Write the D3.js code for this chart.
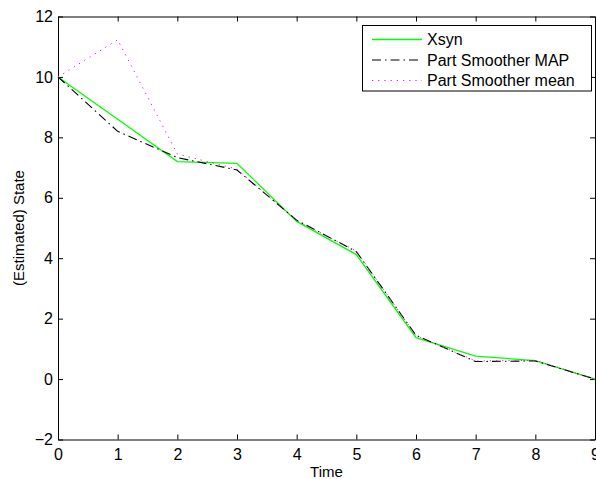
<!DOCTYPE html>
<html lang="en">
<head>
    <meta charset="UTF-8">
    <title>Estimated State</title>
    <script src="https://d3js.org/d3.v7.min.js"></script>
    <style>
        body { margin: 0; background: #fff; }
        svg { display: block; }
        .axis text {
            font-family: "Liberation Sans", Arial, sans-serif;
            font-size: 16px;
            fill: #000;
        }
        .axis path, .axis line { stroke: #000; }
        .label, .legend text {
            font-family: "Liberation Sans", Arial, sans-serif;
            fill: #000;
        }
    </style>
</head>
<body>
<svg></svg>
<script>
    const times = [0, 1, 2, 3, 4, 5, 6, 7, 8, 9];
    const xsyn = [10, 8.6, 7.2, 7.14, 5.22, 4.12, 1.37, 0.76, 0.61, 0.0];
    const smootherMap = [10, 8.2, 7.33, 6.92, 5.26, 4.22, 1.45, 0.58, 0.6, 0.0];
    const smootherMean = [10, 11.23, 7.45, 6.95, 5.24, 4.24, 1.44, 0.6, 0.62, 0.0];
    const xTicks = [0, 1, 2, 3, 4, 5, 6, 7, 8, 9];
    const yTicks = [-2, 0, 2, 4, 6, 8, 10, 12];

    const width = 596, height = 479;
    const margins = { top: 16.5, bottom: 39.5, left: 58, right: 1 };

    const svg = d3.select("svg")
        .attr("width", width)
        .attr("height", height);

    const xScale = d3.scaleLinear()
        .domain([0, 9])
        .range([margins.left, width - margins.right]);

    const yScale = d3.scaleLinear()
        .domain([-2, 12])
        .range([height - margins.bottom, margins.top]);

    // box axes, ticks pointing inward like matlab
    svg.append("g").attr("class", "axis")
        .attr("transform", `translate(0, ${height - margins.bottom})`)
        .call(d3.axisBottom(xScale).tickValues(xTicks).tickSize(-5).tickSizeOuter(0).tickPadding(9).tickFormat(d3.format("d")));

    svg.append("g").attr("class", "axis")
        .attr("transform", `translate(0, ${margins.top})`)
        .call(d3.axisTop(xScale).tickValues(xTicks).tickSize(-5).tickSizeOuter(0).tickFormat(""));

    svg.append("g").attr("class", "axis")
        .attr("transform", `translate(${margins.left}, 0)`)
        .call(d3.axisLeft(yScale).tickValues(yTicks).tickSize(-5).tickSizeOuter(0).tickPadding(5).tickFormat(d3.format("d")));

    svg.append("g").attr("class", "axis")
        .attr("transform", `translate(${width - margins.right}, 0)`)
        .call(d3.axisRight(yScale).tickValues(yTicks).tickSize(-5).tickSizeOuter(0).tickFormat(""));

    const series = [
        { name: "Xsyn", values: xsyn, color: "#00ff00", dash: null, w: 1.3 },
        { name: "Part Smoother MAP", values: smootherMap, color: "#000", dash: "9,4,1.5,4", w: 1.1 },
        { name: "Part Smoother mean", values: smootherMean, color: "#ff00ff", dash: "1.2,5", w: 1 }
    ];

    const line = d3.line()
        .x((d, i) => xScale(times[i]))
        .y(d => yScale(d));

    svg.selectAll(".series")
        .data(series)
        .enter()
        .append("path")
        .attr("class", "series")
        .attr("d", d => line(d.values))
        .attr("fill", "none")
        .attr("stroke", d => d.color)
        .attr("stroke-width", d => d.w)
        .attr("stroke-dasharray", d => d.dash);

    // legend
    const legend = svg.append("g").attr("class", "legend");
    legend.append("rect")
        .attr("x", 362.5).attr("y", 25.5)
        .attr("width", 229).attr("height", 65.5)
        .attr("fill", "#fff").attr("stroke", "#000");

    const items = legend.selectAll(".item")
        .data(series)
        .enter()
        .append("g")
        .attr("class", "item")
        .attr("transform", (d, i) => `translate(372, ${39.5 + i * 20.5})`);

    items.append("line")
        .attr("x1", 0).attr("x2", 50)
        .attr("stroke", d => d.color)
        .attr("stroke-width", d => d.w)
        .attr("stroke-dasharray", d => d.dash);

    items.append("text")
        .attr("x", 55)
        .attr("dy", "0.36em")
        .style("font-size", "16px")
        .text(d => d.name);

    svg.append("text")
        .attr("class", "label")
        .attr("x", (xScale(0) + xScale(9)) / 2)
        .attr("y", 477)
        .attr("text-anchor", "middle")
        .style("font-size", "15px")
        .text("Time");

    svg.append("text")
        .attr("class", "label")
        .attr("transform", `translate(24, ${(yScale(-2) + yScale(12)) / 2}) rotate(-90)`)
        .attr("text-anchor", "middle")
        .style("font-size", "15px")
        .text("(Estimated) State");
</script>
</body>
</html>
